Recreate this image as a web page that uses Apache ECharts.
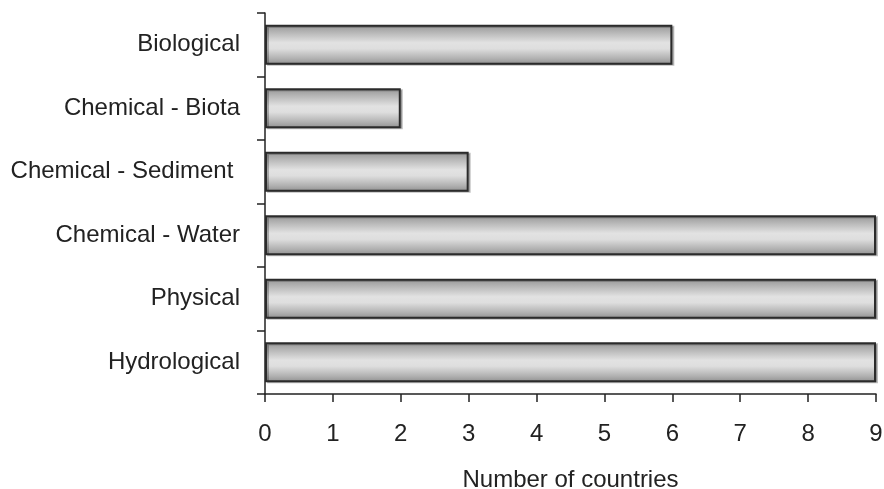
<!DOCTYPE html>
<html>
<head>
<meta charset="utf-8">
<script src="https://cdn.jsdelivr.net/npm/echarts@6/dist/echarts.min.js"></script>
<style>
  html, body { margin: 0; padding: 0; background: #ffffff; }
  #chart { width: 884px; height: 489px; }
</style>
</head>
<body>
<div id="chart"></div>
<script>
// Monitoring categories, listed top to bottom
const categories = ['Biological', 'Chemical - Biota', 'Chemical - Sediment ', 'Chemical - Water', 'Physical', 'Hydrological'];
// Number of countries per category
const countries = [6, 2, 3, 9, 9, 9];
const xTicks = [0, 1, 2, 3, 4, 5, 6, 7, 8, 9];

const chart = echarts.init(document.getElementById('chart'), null, { renderer: 'canvas' });

const font = '"Liberation Sans", Arial, Helvetica, sans-serif';
const ink = '#222222';

// Cylinder-like grey shading across each bar
const barFill = new echarts.graphic.LinearGradient(0, 0, 0, 1, [
  { offset: 0.0, color: '#959595' },
  { offset: 0.2, color: '#b8b8b8' },
  { offset: 0.45, color: '#e2e2e2' },
  { offset: 0.6, color: '#dedede' },
  { offset: 0.85, color: '#b0b0b0' },
  { offset: 1.0, color: '#8e8e8e' }
]);

chart.setOption({
  animation: false,
  backgroundColor: '#ffffff',
  grid: { left: 265, right: 8, top: 13, bottom: 95, containLabel: false, outerBoundsMode: 'none' },
  xAxis: {
    type: 'value',
    min: xTicks[0],
    max: xTicks[xTicks.length - 1],
    interval: 1,
    name: 'Number of countries',
    nameLocation: 'middle',
    nameGap: 74,
    nameTextStyle: { fontFamily: font, fontSize: 24, color: ink },
    axisLine: { show: true, lineStyle: { color: ink, width: 1.5 } },
    axisTick: { show: true, length: 8, lineStyle: { color: ink, width: 1.5 } },
    axisLabel: { margin: 28, fontFamily: font, fontSize: 24, color: ink },
    splitLine: { show: false }
  },
  yAxis: {
    type: 'category',
    data: categories,
    inverse: true,
    axisLine: { show: true, lineStyle: { color: ink, width: 1.5 } },
    axisTick: { show: true, length: 8, lineStyle: { color: ink, width: 1.5 } },
    axisLabel: { margin: 25, fontFamily: font, fontSize: 24, color: ink },
    splitLine: { show: false }
  },
  series: [{
    type: 'bar',
    data: countries,
    barWidth: 40,
    itemStyle: {
      color: barFill,
      borderColor: '#2b2b2b',
      borderWidth: 2,
      shadowColor: 'rgba(0,0,0,0.25)',
      shadowOffsetX: 2,
      shadowOffsetY: 1,
      shadowBlur: 0
    }
  }]
});
</script>
</body>
</html>
